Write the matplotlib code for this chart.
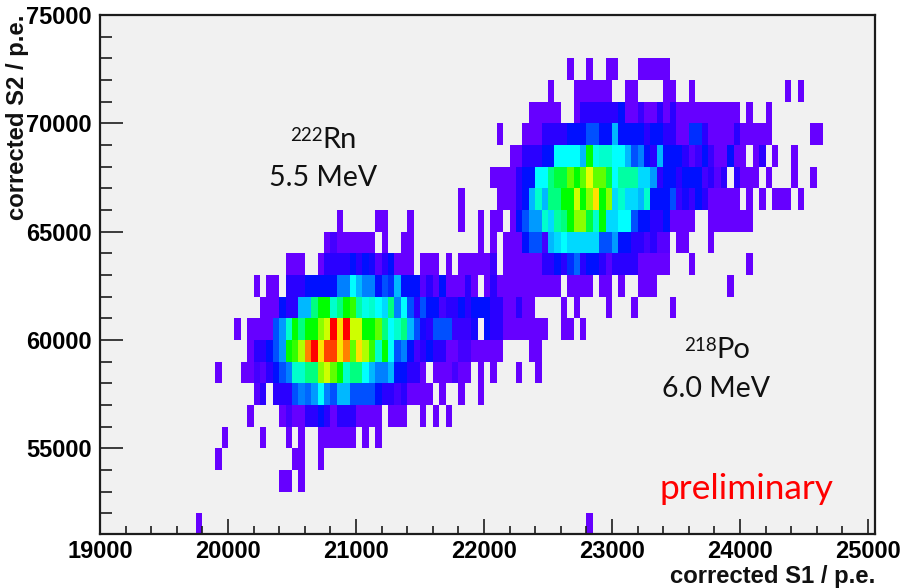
import numpy as np
import matplotlib
matplotlib.use("Agg")
import matplotlib.pyplot as plt
from matplotlib.colors import LinearSegmentedColormap

W, H = 902, 588

# Histogram cells: (first S1 bin index, counts...) for each S2 row; S1 bin = 19000 + 50*i
row_51000 = [(15, [1]), (76, [1])]
row_53000 = [(28, [1, 1]), (31, [1])]
row_54000 = [(18, [1]), (30, [1, 1]), (34, [1])]
row_55000 = [(19, [1]), (25, [1]), (29, [1]), (31, [1]), (34, [1, 1, 1, 1, 1, 1]), (41, [1]), (43, [1])]
row_56000 = [(23, [1]), (28, [1, 2, 1, 1, 3, 3, 4, 3, 1, 3, 3, 3, 1, 1, 1, 1]), (45, [1, 1, 1]), (50, [1]), (52, [1]), (54, [1])]
row_57000 = [(24, [1.5, 3]), (27, [3, 3, 3, 5, 6, 5.5, 6.5, 8, 6, 5, 7, 7, 5, 5, 5, 5, 4, 3, 3, 2, 3, 1, 1, 1, 1]), (53, [1]), (56, [1]), (59, [1])]
row_58000 = [(18, [1]), (22, [1, 1, 2, 1.5, 3, 4, 5, 6, 9, 9, 10, 10, 12.5, 13.5, 12, 11, 9, 10, 10, 8, 7, 6, 6, 7, 4, 4, 3, 3, 1]),
             (52, [1, 1, 1, 2, 1, 1]), (59, [1]), (61, [1]), (65, [1]), (68, [1])]
row_59000 = [(23, [1, 3, 3, 4, 5, 6.5, 11, 11.5, 13, 16, 18, 15, 17, 17, 14.8, 16, 12, 15, 13, 11.5, 9, 11, 8, 5, 6, 4, 2, 3, 4, 3, 3, 1, 1, 2, 2, 1, 1, 1, 1, 1]),
             (67, [1, 1])]
row_60000 = [(21, [1]), (23, [1, 1, 1, 1, 5, 6.5, 9, 11, 10, 11, 11, 12.5, 13.5, 18, 15, 18, 13.5, 13.5, 11, 11, 12, 10, 8, 9, 10, 7, 5, 3.5, 3, 5, 5, 5, 2.5, 2.5, 2.5, 3.5]),
             (60, [4, 3, 3, 1, 1, 1, 1, 1, 1, 1]), (72, [1, 1]), (75, [1])]
row_61000 = [(25, [1, 1, 1, 4, 3, 3, 7, 7, 10, 11, 11, 9, 10, 11, 11.5, 9.5, 8.5, 9, 8, 7.5, 10, 6, 8, 5, 3, 5, 4, 4, 2, 3, 3, 4, 3, 4, 4, 4, 3, 3, 1, 1, 3, 1, 1]),
             (72, [1]), (74, [1]), (79, [1]), (83, [1]), (89, [1])]
row_62000 = [(24, [1]), (26, [1, 1]), (29, [3, 3, 3, 4, 4, 4, 4, 4, 6, 6, 8, 7, 6, 6, 4, 5, 4.5, 7, 4, 4, 4, 1.5, 3, 1.5, 4, 1, 1, 1, 3, 1]),
             (60, [1, 3, 1, 1, 1, 1, 1, 1, 1, 1, 1, 1]), (73, [1, 1, 1, 1]), (78, [1, 1]), (81, [1]), (84, [1, 1, 1]), (98, [1])]
row_63000 = [(29, [1, 1, 1]), (34, [1, 3, 3, 3, 3, 4, 3, 4, 3.5, 1.5, 3, 4, 1, 1, 1]), (50, [1, 1, 1]), (54, [1]), (56, [1, 1, 1, 1, 1, 2.5]),
             (63, [1, 1, 1, 1, 1, 1, 3, 3, 4, 3, 4.5, 5.5, 3, 4, 4, 3, 1.5, 3, 3, 3, 3, 1, 1, 1, 1, 1]), (92, [1]), (101, [1])]
row_64000 = [(35, [1, 2, 1, 1, 1, 1, 1, 1]), (44, [1]), (47, [1, 1]), (59, [1]), (61, [1]),
             (63, [1, 1, 1, 4, 5, 5, 2, 7, 7.5, 8, 7.5, 7.5, 7.5, 7.5, 7.5, 5, 5, 6.5, 4, 4, 3, 3, 2, 3, 1.5, 1.5]), (90, [1, 1]), (95, [1])]
row_65000 = [(37, [1]), (43, [1, 1]), (48, [1]), (56, [1]), (59, [1]), (61, [1, 1]),
             (64, [1, 4, 5, 6.5, 6.5, 9, 7.5, 9.5, 10, 11, 12.5, 12.5, 10.5, 9, 11, 7.5, 7.5, 8, 8, 5, 4, 4, 3, 3, 4, 1, 1, 1, 1]), (95, [1, 1, 1, 1, 1, 1, 1])]
row_66000 = [(56, [1]), (62, [1, 1, 1, 3, 4, 7, 9, 7, 10, 10, 11, 11, 13.5, 11, 12.5, 15, 11, 12.5, 7.5, 9, 7.5, 7.5, 7, 9, 4, 4, 4, 5, 2.5, 3.5, 2.5, 4, 3, 1, 1, 1, 1, 1]),
             (101, [1]), (103, [1]), (105, [1, 1, 1]), (109, [1])]
row_67000 = [(61, [1, 1, 1, 1, 3, 4, 4, 8, 8, 10, 10.5, 10.5, 12, 11, 12, 14, 12, 12, 10.5, 8, 9.5, 9.5, 9.5, 7.5, 7.5, 6.5, 3, 4, 4, 3, 4, 4, 4, 2, 3, 1.5, 3]),
             (99, [3, 1, 1, 1]), (104, [1]), (108, [1]), (111, [1])]
row_68000 = [(64, [1, 1, 3, 3, 3, 4, 4, 8, 8, 8, 8, 7, 11, 8.5, 9, 9, 8, 8, 7, 5, 6, 4, 3, 7, 4, 4, 4, 3, 1.5, 2.5, 4, 2.5, 1, 1, 4, 1, 1]),
             (102, [1, 3]), (105, [1]), (108, [1])]
row_69000 = [(62, [1]), (66, [1, 1, 1, 3, 3, 3, 3, 4, 4, 4, 5, 5, 4, 4, 7, 4, 4, 4, 4, 3, 4, 4, 3, 3, 1, 1, 4.5, 4.5, 3, 1, 1, 1, 1, 3, 1, 1, 1, 1, 1]), (111, [1, 1])]
row_70000 = [(67, [1, 1, 1, 1, 1]), (74, [1, 3, 3, 3, 3, 3, 3, 4, 1, 1, 2.5, 1, 1, 3, 1, 3, 1, 1, 1, 1, 1, 1, 1, 1, 1, 1]), (101, [1]), (104, [1])]
row_71000 = [(70, [1]), (74, [1, 1, 1, 1, 1, 1]), (82, [1, 1]), (88, [1, 1]), (92, [1]), (107, [1]), (109, [1])]
row_72000 = [(73, [1]), (76, [1]), (79, [1, 1]), (84, [1, 1, 1, 1, 1])]

s2_rows = {51000: row_51000, 53000: row_53000, 54000: row_54000, 55000: row_55000, 56000: row_56000,
           57000: row_57000, 58000: row_58000, 59000: row_59000, 60000: row_60000, 61000: row_61000,
           62000: row_62000, 63000: row_63000, 64000: row_64000, 65000: row_65000, 66000: row_66000,
           67000: row_67000, 68000: row_68000, 69000: row_69000, 70000: row_70000, 71000: row_71000,
           72000: row_72000}

x_major = [19000, 20000, 21000, 22000, 23000, 24000, 25000]
y_major = [55000, 60000, 65000, 70000, 75000]

palette = ["#6600ff", "#4400ff", "#2a00ff", "#0010ff", "#0050ff", "#0080ff", "#00b8ff", "#00ffff", "#00ffcc",
           "#00ff80", "#00ff00", "#60ff00", "#b0ff00", "#e8ff00", "#ffe000", "#ff8000", "#ff4000", "#ff0000"]

x_edges = np.arange(19000, 25051, 50)
y_edges = np.arange(51000, 75001, 1000)
grid = np.zeros((len(y_edges) - 1, len(x_edges) - 1))
for s2, segments in s2_rows.items():
    for start, counts in segments:
        grid[(s2 - 51000) // 1000, start:start + len(counts)] = counts

cmap = LinearSegmentedColormap.from_list("root_rainbow", palette, N=256)
cmap.set_bad((0, 0, 0, 0))

fig = plt.figure(figsize=(W / 100, H / 100), dpi=100, facecolor="white")
ax = fig.add_axes([100 / W, 1 - 534 / H, 775 / W, 519 / H], facecolor="#f1f1f1")
ax.pcolormesh(x_edges, y_edges, np.ma.masked_equal(grid, 0), cmap=cmap, vmin=1, vmax=18,
              shading="flat", antialiased=False, linewidth=0, rasterized=True)
ax.set_xlim(19000, 25055)
ax.set_ylim(51040, 75000)

dark = "#1c1c1c"
for s in ax.spines.values():
    s.set_linewidth(1.6)
    s.set_color(dark)
ax.set_xticks(x_major)
ax.set_yticks(y_major)
ax.set_xticks(np.arange(19000, 25001, 200), minor=True)
ax.set_yticks(np.arange(52000, 75000, 1000), minor=True)
tick_font = dict(fontfamily="Liberation Sans", fontweight="bold", fontsize=17)
ax.set_xticklabels([str(v) for v in x_major], **tick_font)
ax.set_yticklabels([str(v) for v in y_major], **tick_font)
ax.tick_params(axis="x", which="major", direction="in", length=11, width=1.2, color=dark, pad=4.5)
ax.tick_params(axis="x", which="minor", direction="in", length=5.8, width=1.2, color=dark)
ax.tick_params(axis="y", which="major", direction="in", length=16.5, width=1.2, color=dark, pad=6)
ax.tick_params(axis="y", which="minor", direction="in", length=8.6, width=1.2, color=dark)


def px(x, y):
    return x / W, 1 - y / H


label_font = dict(fontfamily="Liberation Sans", fontweight="bold", fontsize=17.2, color="#111111")
fig.text(*px(875, 576), "corrected S1 / p.e.", ha="right", va="center", **label_font)
fig.text(*px(18, 15), "corrected S2 / p.e.", ha="center", va="top", rotation=90, **label_font)

note = dict(fontfamily="Lato", color="#111111")
fig.text(*px(290, 141), "222", ha="left", va="baseline", fontsize=13.5, **note)
fig.text(*px(322, 148), "Rn", ha="left", va="baseline", fontsize=21, **note)
fig.text(*px(323, 186), "5.5 MeV", ha="center", va="baseline", fontsize=20.5, **note)
fig.text(*px(684, 351), "218", ha="left", va="baseline", fontsize=13.5, **note)
fig.text(*px(716, 358), "Po", ha="left", va="baseline", fontsize=21, **note)
fig.text(*px(716, 397), "6.0 MeV", ha="center", va="baseline", fontsize=20.5, **note)
fig.text(*px(660, 499), "preliminary", ha="left", va="baseline", fontsize=25.4, fontfamily="Lato", color="#ff0000")

fig.savefig("out.png", dpi=100)
